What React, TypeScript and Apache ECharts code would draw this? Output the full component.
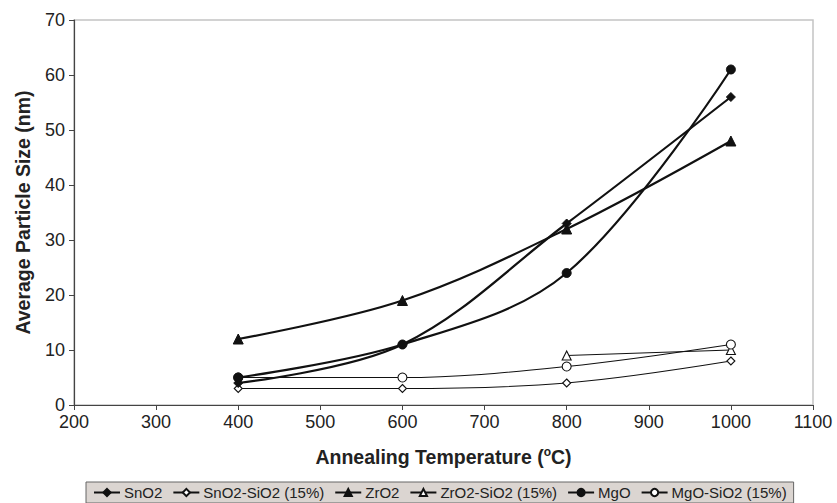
import React, { useEffect, useRef } from "react";
import * as echarts from "echarts";

const temps = [400, 600, 800, 1000];
const snO2 = [4, 11, 33, 56];
const snO2SiO2 = [3, 3, 4, 8];
const zrO2 = [12, 19, 32, 48];
const zrO2SiO2Temps = [800, 1000];
const zrO2SiO2 = [9, 10];
const mgO = [5, 11, 24, 61];
const mgOSiO2 = [5, 5, 7, 11];
const seriesNames = ["SnO2", "SnO2-SiO2 (15%)", "ZrO2", "ZrO2-SiO2 (15%)", "MgO", "MgO-SiO2 (15%)"];

const pairs = (xs: number[], ys: number[]) => xs.map((x, i) => [x, ys[i]]);

export default function App() {
  const ref = useRef<HTMLDivElement>(null);
  useEffect(() => {
    if (!ref.current) return;
    const chart = echarts.init(ref.current, undefined, { renderer: "svg" });
    const font = "'Liberation Sans', Arial, sans-serif";
    const mk = (name: string, data: number[][], symbol: string, filled: boolean, size: number) => ({
      name,
      type: "line",
      smooth: 0.35,
      data,
      symbol,
      symbolSize: size,
      showSymbol: true,
      lineStyle: { color: "#111", width: filled ? 2.2 : 1.1 },
      itemStyle: { color: filled ? "#111" : "#fff", borderColor: "#111", borderWidth: filled ? 1 : 1.1 },
      z: filled ? 3 : 2,
    });
    chart.setOption({
      animation: false,
      backgroundColor: "#fff",
      textStyle: { fontFamily: font },
      grid: { left: 74, right: 24, top: 20, bottom: 98, show: true, borderColor: "#c4c4c4", borderWidth: 1.5, backgroundColor: "transparent" },
      xAxis: {
        type: "value",
        min: 200,
        max: 1100,
        interval: 100,
        splitLine: { show: false },
        axisLine: { lineStyle: { color: "#444", width: 1.2 } },
        axisTick: { show: true, length: 5, lineStyle: { color: "#444" } },
        axisLabel: { color: "#222", fontSize: 18, fontFamily: font, margin: 8, formatter: (v: number) => String(v) },
        name: "{a|Annealing Temperature (}{s|o}{a|C)}",
        nameLocation: "middle",
        nameGap: 41,
        nameTextStyle: {
          rich: {
            a: { fontSize: 19.5, fontWeight: "bold", color: "#222", fontFamily: font },
            s: { fontSize: 12, fontWeight: "bold", color: "#222", fontFamily: font, verticalAlign: "top", padding: [0, 0, 9, 0] },
          },
        },
      },
      yAxis: {
        type: "value",
        min: 0,
        max: 70,
        interval: 10,
        splitLine: { show: false },
        axisLine: { show: true, lineStyle: { color: "#444", width: 1.2 } },
        axisTick: { show: true, length: 5, lineStyle: { color: "#444" } },
        axisLabel: { color: "#222", fontSize: 18, fontFamily: font, margin: 9 },
        name: "Average Particle Size (nm)",
        nameLocation: "middle",
        nameGap: 41,
        nameTextStyle: { fontSize: 19.5, fontWeight: "bold", color: "#222", fontFamily: font },
      },
      legend: {
        bottom: 0,
        left: 86,
        data: seriesNames,
        itemWidth: 26,
        itemHeight: 9,
        itemGap: 10,
        padding: [3, 7, 3, 7],
        backgroundColor: "#dbd5d1",
        borderColor: "#666",
        borderWidth: 1,
        borderRadius: 0,
        textStyle: { fontSize: 15, color: "#222", fontFamily: font, padding: [0, 0, 0, -1] },
      },
      series: [
        mk(seriesNames[0], pairs(temps, snO2), "diamond", true, 9),
        mk(seriesNames[1], pairs(temps, snO2SiO2), "diamond", false, 8),
        mk(seriesNames[2], pairs(temps, zrO2), "triangle", true, 10),
        mk(seriesNames[3], pairs(zrO2SiO2Temps, zrO2SiO2), "triangle", false, 9),
        mk(seriesNames[4], pairs(temps, mgO), "circle", true, 9),
        mk(seriesNames[5], pairs(temps, mgOSiO2), "circle", false, 9),
      ],
    });
    return () => chart.dispose();
  }, []);
  return <div ref={ref} style={{ width: 837, height: 503, position: "absolute", left: 0, top: 0 }} />;
}
